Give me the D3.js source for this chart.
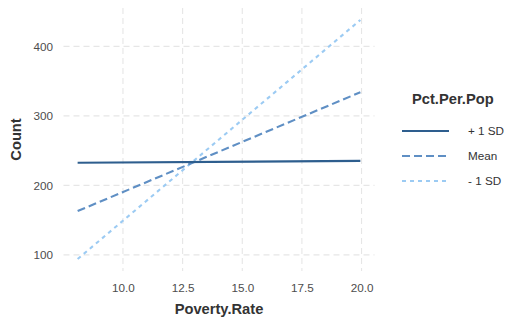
<!DOCTYPE html>
<html>
<head>
<meta charset="utf-8">
<script src="https://cdn.jsdelivr.net/npm/d3@7/dist/d3.min.js"></script>
<style>
  html, body { margin: 0; padding: 0; background: #ffffff; }
  svg { display: block; font-family: "Liberation Sans", Arial, sans-serif; }
</style>
</head>
<body>
<svg id="chart" width="527" height="325"></svg>
<script>
// ---- data ----
const povertyRate = [8.1, 19.95];
const seriesNames = ["+ 1 SD", "Mean", "- 1 SD"];
const plus1SD = [232.5, 235.2];
const meanVals = [163, 334];
const minus1SD = [94, 438];
const xTicks = [10.0, 12.5, 15.0, 17.5, 20.0];
const yTicks = [100, 200, 300, 400];

const series = [
  { name: seriesNames[0], values: plus1SD, color: "#2e5e8e", dash: null },
  { name: seriesNames[1], values: meanVals, color: "#5f8fc4", dash: "8,4" },
  { name: seriesNames[2], values: minus1SD, color: "#9ccbf3", dash: "4,4" }
];

const svg = d3.select("#chart");
const panel = { left: 63.5, right: 374.5, top: 8, bottom: 271 };

const xExt = d3.extent(povertyRate);
const xPad = (xExt[1] - xExt[0]) * 0.05;
const allY = plus1SD.concat(meanVals, minus1SD);
const yExt = d3.extent(allY);
const yPad = (yExt[1] - yExt[0]) * 0.05;

const x = d3.scaleLinear().domain([xExt[0] - xPad, xExt[1] + xPad]).range([panel.left, panel.right]);
const y = d3.scaleLinear().domain([yExt[0] - yPad, yExt[1] + yPad]).range([panel.bottom, panel.top]);

// grid
const grid = svg.append("g");
grid.selectAll("line.h").data(yTicks).enter().append("line")
  .attr("x1", panel.left).attr("x2", panel.right)
  .attr("y1", d => y(d)).attr("y2", d => y(d))
  .attr("stroke", "#e6e6e6").attr("stroke-width", 1.1).attr("stroke-dasharray", "6,4");
grid.selectAll("line.v").data(xTicks).enter().append("line")
  .attr("y1", panel.top).attr("y2", panel.bottom)
  .attr("x1", d => x(d)).attr("x2", d => x(d))
  .attr("stroke", "#e6e6e6").attr("stroke-width", 1.1).attr("stroke-dasharray", "6,4");

// axes (text only, like ggplot minimal)
const xAxis = d3.axisBottom(x).tickValues(xTicks).tickFormat(d3.format(".1f")).tickSize(0).tickPadding(0);
const gx = svg.append("g").attr("transform", `translate(0,${panel.bottom})`).call(xAxis);
gx.select(".domain").remove();
gx.selectAll("text").attr("dy", null).attr("y", 21).attr("fill", "#4d4d4d")
  .style("font-size", "11.7px").style("font-family", "Liberation Sans, Arial, sans-serif");

const yAxis = d3.axisLeft(y).tickValues(yTicks).tickFormat(d3.format("d")).tickSize(0).tickPadding(0);
const gy = svg.append("g").attr("transform", `translate(${panel.left - 10.5},0)`).call(yAxis);
gy.select(".domain").remove();
gy.selectAll("text").attr("dy", "0.35em").attr("x", 0).attr("fill", "#4d4d4d")
  .style("font-size", "11.7px").style("font-family", "Liberation Sans, Arial, sans-serif");

// lines
const line = d3.line().x((d, i) => x(povertyRate[i])).y(d => y(d));
series.slice().reverse().forEach(s => {
  svg.append("path").datum(s.values)
    .attr("d", line)
    .attr("fill", "none")
    .attr("stroke", s.color)
    .attr("stroke-width", 2.1)
    .attr("stroke-dasharray", s.dash);
});

// axis titles
svg.append("text").attr("x", (panel.left + panel.right) / 2).attr("y", 313.5)
  .attr("text-anchor", "middle").attr("font-weight", "bold").attr("fill", "#333333")
  .style("font-size", "14.7px").text("Poverty.Rate");
svg.append("text").attr("transform", `translate(20.5,${(panel.top + panel.bottom) / 2}) rotate(-90)`)
  .attr("text-anchor", "middle").attr("font-weight", "bold").attr("fill", "#333333")
  .style("font-size", "14.7px").text("Count");

// legend
const lg = svg.append("g");
lg.append("text").attr("x", 412).attr("y", 104).attr("font-weight", "bold").attr("fill", "#333333")
  .style("font-size", "14.7px").text("Pct.Per.Pop");
const legendY = [131, 156, 181];
series.forEach((s, i) => {
  lg.append("line").attr("x1", 402).attr("x2", 449).attr("y1", legendY[i]).attr("y2", legendY[i])
    .attr("stroke", s.color).attr("stroke-width", 2.1).attr("stroke-dasharray", s.dash);
  lg.append("text").attr("x", 468).attr("y", legendY[i]).attr("dy", "0.35em").attr("fill", "#333333")
    .style("font-size", "11.7px").text(s.name);
});
</script>
</body>
</html>
